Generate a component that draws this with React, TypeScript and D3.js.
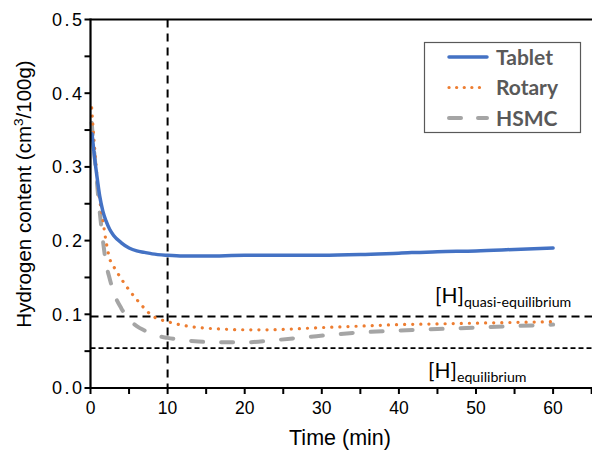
import React from "react";
import * as d3 from "d3";

// Hydrogen content (cm³/100g) over time (min) for three processing routes
const tabletTime = [0.2, 0.5, 0.8, 1.2, 1.6, 2, 2.5, 3, 4, 5, 6, 7, 8, 10, 12, 15, 20, 25, 30, 35, 40, 45, 50, 55, 60];
const tabletValue = [0.345, 0.315, 0.29, 0.26, 0.24, 0.227, 0.215, 0.207, 0.197, 0.19, 0.186, 0.184, 0.182, 0.180, 0.179, 0.179, 0.18, 0.18, 0.18, 0.181, 0.183, 0.185, 0.186, 0.188, 0.190];

const rotaryTime = [0.15, 0.5, 1, 1.5, 2, 2.5, 3, 4, 5, 6, 7, 8, 9, 10, 12, 14, 17, 20, 23, 26, 30, 35, 40, 45, 50, 55, 60];
const rotaryValue = [0.38, 0.33, 0.27, 0.235, 0.2, 0.175, 0.165, 0.148, 0.133, 0.12, 0.108, 0.098, 0.093, 0.09, 0.085, 0.082, 0.08, 0.079, 0.079, 0.08, 0.082, 0.084, 0.086, 0.087, 0.088, 0.089, 0.09];

const hsmcTime = [0.15, 0.4, 0.7, 1, 1.5, 2, 2.5, 3, 4, 5, 6, 7, 8, 9, 10, 12, 14, 17, 20, 24, 28, 32, 36, 40, 45, 50, 55, 60];
const hsmcValue = [0.36, 0.33, 0.295, 0.26, 0.21, 0.17, 0.148, 0.13, 0.108, 0.093, 0.084, 0.078, 0.073, 0.07, 0.068, 0.065, 0.063, 0.062, 0.062, 0.065, 0.069, 0.073, 0.076, 0.078, 0.08, 0.082, 0.084, 0.086];

const seriesNames = ["Tablet", "Rotary", "HSMC"];
const xTicks = [0, 10, 20, 30, 40, 50, 60];
const xMinorTicks = [5, 15, 25, 35, 45, 55, 65];
const yTicks = [0, 0.1, 0.2, 0.3, 0.4, 0.5];
const yMinorTicks = [0.05, 0.15, 0.25, 0.35, 0.45];

const quasiEquilibrium = 0.097;
const equilibrium = 0.054;
const markerTime = 10;

const W = 592;
const H = 452;
const left = 90.5;
const top = 19.5;
const bottom = 388;

export default function App() {
  const x = d3.scaleLinear().domain([0, 65]).range([left, left + 65 * 7.71]);
  const y = d3.scaleLinear().domain([0, 0.5]).range([bottom, top]);

  const line = d3
    .line<[number, number]>()
    .x((d) => x(d[0]))
    .y((d) => y(d[1]))
    .curve(d3.curveMonotoneX);

  const zip = (t: number[], v: number[]) => t.map((ti, i) => [ti, v[i]] as [number, number]);

  const series = [
    { name: seriesNames[0], d: line(zip(tabletTime, tabletValue)), color: "#4472C4", width: 3.5, dash: "none", legendDash: "none" },
    { name: seriesNames[1], d: line(zip(rotaryTime, rotaryValue)), color: "#ED7D31", width: 3.2, dash: "0.1 8", legendDash: "0.1 7.5" },
    { name: seriesNames[2], d: line(zip(hsmcTime, hsmcValue)), color: "#A5A5A5", width: 4, dash: "12 18", legendDash: "12 17" },
  ];

  const font = "'Liberation Sans', Arial, sans-serif";
  const labelFont = "Lato, 'Open Sans', sans-serif";
  const xEnd = W;

  return (
    <svg width={W} height={H} style={{ position: "absolute", left: 0, top: 0, background: "#fff" }}>
      {/* reference lines */}
      <line x1={x(markerTime)} x2={x(markerTime)} y1={top} y2={bottom} stroke="#000" strokeWidth={2} strokeDasharray="8 6" />
      <line x1={left} x2={xEnd} y1={y(quasiEquilibrium)} y2={y(quasiEquilibrium)} stroke="#000" strokeWidth={1.8} strokeDasharray="8 5" />
      <line x1={left} x2={xEnd} y1={y(equilibrium)} y2={y(equilibrium)} stroke="#000" strokeWidth={1.8} strokeDasharray="5 3" />

      {/* series */}
      {series
        .slice()
        .reverse()
        .map((s) => (
          <path
            key={s.name}
            d={s.d || ""}
            fill="none"
            stroke={s.color}
            strokeWidth={s.width}
            strokeDasharray={s.dash}
            strokeLinecap="round"
          />
        ))}

      {/* axes frame */}
      <line x1={left} x2={xEnd} y1={top} y2={top} stroke="#000" strokeWidth={2} />
      <line x1={left} x2={left} y1={top - 1} y2={bottom + 1} stroke="#000" strokeWidth={2.2} />
      <line x1={left} x2={xEnd} y1={bottom} y2={bottom} stroke="#000" strokeWidth={2.2} />

      {/* y ticks */}
      {[...yTicks, ...yMinorTicks].map((t) => (
        <line key={"yt" + t} x1={left - 6} x2={left} y1={y(t)} y2={y(t)} stroke="#000" strokeWidth={2} />
      ))}
      {yTicks.map((t) => (
        <text key={"yl" + t} x={84.5} y={y(t)} dy="0.36em" textAnchor="end" fontFamily={font} fontSize={18} letterSpacing={2.5} fill="#000">
          {d3.format(".1f")(t)}
        </text>
      ))}

      {/* x ticks */}
      {[...xTicks, ...xMinorTicks].map((t) => (
        <line key={"xt" + t} x1={x(t)} x2={x(t)} y1={bottom} y2={bottom + 6} stroke="#000" strokeWidth={2} />
      ))}
      {xTicks.map((t) => (
        <text key={"xl" + t} x={x(t)} y={413.5} textAnchor="middle" fontFamily={font} fontSize={17.5} fill="#000">
          {t}
        </text>
      ))}

      {/* axis titles */}
      <text x={340} y={445} textAnchor="middle" fontFamily={font} fontSize={21.5} fill="#000">
        Time (min)
      </text>
      <text transform="translate(31,194) rotate(-90)" textAnchor="middle" fontFamily={font} fontSize={20.5} fill="#000">
        Hydrogen content (cm
        <tspan fontSize={13.5} dy={-8}>3</tspan>
        <tspan dy={8}>/100g)</tspan>
      </text>

      {/* level annotations */}
      <text x={435} y={303} fontFamily={labelFont} fontSize={21} fill="#000">
        [H]
        <tspan fontSize={14.2} dy={4}>quasi-equilibrium</tspan>
      </text>
      <text x={428} y={378} fontFamily={labelFont} fontSize={21} fill="#000">
        [H]
        <tspan fontSize={14.2} dy={4}>equilibrium</tspan>
      </text>

      {/* legend */}
      <rect x={424.5} y={42.5} width={156} height={90} fill="#fff" stroke="#595959" strokeWidth={1.2} />
      {series.map((s, i) => {
        const ly = 57 + i * 30.5;
        return (
          <g key={"lg" + s.name}>
            <line x1={449} x2={487} y1={ly} y2={ly} stroke={s.color} strokeWidth={s.width} strokeDasharray={s.legendDash} strokeLinecap="round" />
            <text x={496} y={ly} dy="0.36em" fontFamily={labelFont} fontWeight={700} fontSize={21} fill="#595959">
              {s.name}
            </text>
          </g>
        );
      })}
    </svg>
  );
}
